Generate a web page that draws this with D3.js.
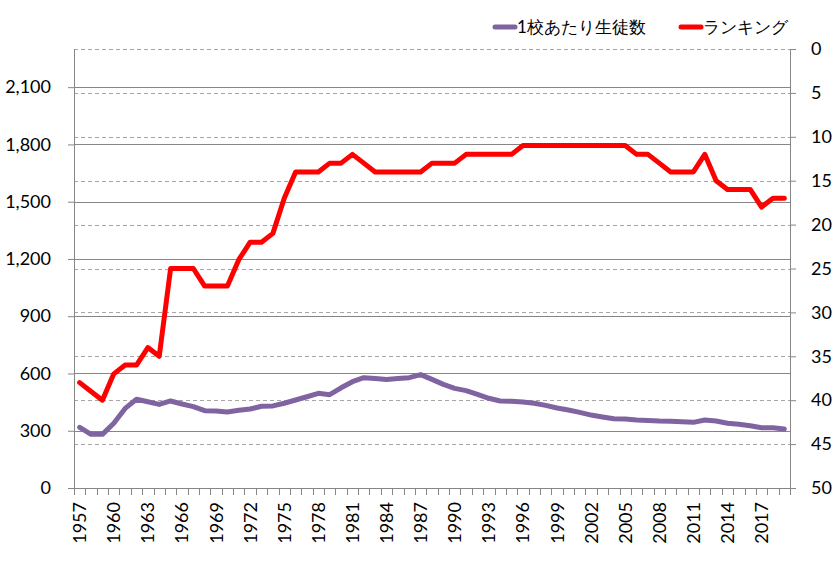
<!DOCTYPE html>
<html>
<head>
<meta charset="utf-8">
<script src="https://cdn.jsdelivr.net/npm/d3@7"></script>
<style>
  html, body { margin: 0; padding: 0; background: #fff; }
  svg { display: block; }
  text { font-family: Lato, "Noto Sans", sans-serif; fill: #000; }
</style>
</head>
<body>
<svg id="chart" width="834" height="562"></svg>
<script>
const years = d3.range(1957, 2020);
const studentsPerSchool = [
  318, 281, 281, 339, 417, 465, 452, 438, 456, 440,
  426, 405, 403, 398, 407, 414, 428, 430, 444, 461,
  478, 496, 489, 525, 557, 578, 574, 569, 574, 578,
  594, 569, 543, 522, 510, 491, 470, 456, 454, 450,
  444, 433, 419, 409, 396, 382, 372, 363, 361, 356,
  354, 351, 350, 347, 344, 356, 351, 339, 334, 326,
  316, 316, 309
];
const ranking = [
  38, 39, 40, 37, 36, 36, 34, 35, 25, 25,
  25, 27, 27, 27, 24, 22, 22, 21, 17, 14,
  14, 14, 13, 13, 12, 13, 14, 14, 14, 14,
  14, 13, 13, 13, 12, 12, 12, 12, 12, 11,
  11, 11, 11, 11, 11, 11, 11, 11, 11, 12,
  12, 13, 14, 14, 14, 12, 15, 16, 16, 16,
  18, 17, 17
];
const leftTicks = [0, 300, 600, 900, 1200, 1500, 1800, 2100];
const rightTicks = [0, 5, 10, 15, 20, 25, 30, 35, 40, 45, 50];
const seriesNames = ["1校あたり生徒数", "ランキング"];
const seriesColors = ["#8064A2", "#FF0000"];

const margin = { left: 74, right: 44, top: 49, bottom: 74 };
const W = 834, H = 562;
const svg = d3.select("#chart");

const x = d3.scaleBand().domain(years).range([margin.left, W - margin.right]).paddingInner(0).paddingOuter(0);
const yL = d3.scaleLinear().domain([0, 2300]).range([H - margin.bottom, margin.top]);
const yR = d3.scaleLinear().domain([0, 50]).range([margin.top, H - margin.bottom]);

const x0 = margin.left, x1 = W - margin.right;
const yb = H - margin.bottom, yt = margin.top;

// dashed gridlines (right axis)
svg.append("g").selectAll("line").data(rightTicks.filter(d => d < 50)).join("line")
  .attr("x1", x0).attr("x2", x1)
  .attr("y1", d => Math.round(yR(d)) + 0.5).attr("y2", d => Math.round(yR(d)) + 0.5)
  .attr("stroke", "#A6A6A6").attr("stroke-width", 1).attr("stroke-dasharray", "4,3");

// solid gridlines (left axis)
svg.append("g").selectAll("line").data(leftTicks.filter(d => d > 0)).join("line")
  .attr("x1", x0).attr("x2", x1)
  .attr("y1", d => Math.round(yL(d)) + 0.5).attr("y2", d => Math.round(yL(d)) + 0.5)
  .attr("stroke", "#868686").attr("stroke-width", 1);

// left axis
const axL = svg.append("g").attr("transform", `translate(${x0},0)`)
  .call(d3.axisLeft(yL).tickValues(leftTicks).tickSize(6).tickPadding(17).tickFormat(d3.format(",")));
axL.select(".domain").attr("stroke", "#868686").attr("d", `M0.5,${yt}V${yb}`);
axL.selectAll(".tick line").attr("stroke", "#868686");
axL.selectAll(".tick text").attr("font-size", 18).attr("font-family", "Lato");

// right axis
const axR = svg.append("g").attr("transform", `translate(${x1},0)`)
  .call(d3.axisRight(yR).tickValues(rightTicks).tickSize(6).tickPadding(15));
axR.select(".domain").attr("stroke", "#868686").attr("d", `M0.5,${yt}V${yb}`);
axR.selectAll(".tick line").attr("stroke", "#868686");
axR.selectAll(".tick text").attr("font-size", 18).attr("font-family", "Lato");

// bottom axis
const gB = svg.append("g");
gB.append("line").attr("x1", x0).attr("x2", x1).attr("y1", yb + 0.5).attr("y2", yb + 0.5).attr("stroke", "#868686");
const boundaries = years.map(d => x(d)).concat([x1]);
gB.selectAll("line.tk").data(boundaries).join("line").attr("class", "tk")
  .attr("x1", d => Math.round(d) + 0.5).attr("x2", d => Math.round(d) + 0.5)
  .attr("y1", yb).attr("y2", yb + 7).attr("stroke", "#868686");
gB.selectAll("text").data(years.filter((d, i) => i % 3 === 0)).join("text")
  .attr("transform", d => `translate(${x(d) + x.bandwidth() / 2},${yb + 14}) rotate(-90)`)
  .attr("text-anchor", "end").attr("dy", "0.36em")
  .attr("font-size", 18).attr("font-family", "Lato")
  .text(d => d);

// lines
const cx = d => x(d) + x.bandwidth() / 2;
const lineL = d3.line().x((d, i) => cx(years[i])).y(d => yL(d));
const lineR = d3.line().x((d, i) => cx(years[i])).y(d => yR(d));
svg.append("path").datum(studentsPerSchool).attr("d", lineL)
  .attr("fill", "none").attr("stroke", seriesColors[0]).attr("stroke-width", 5)
  .attr("stroke-linejoin", "round").attr("stroke-linecap", "round");
svg.append("path").datum(ranking).attr("d", lineR)
  .attr("fill", "none").attr("stroke", seriesColors[1]).attr("stroke-width", 5)
  .attr("stroke-linejoin", "round").attr("stroke-linecap", "round");

// legend
const legendItems = [
  { name: seriesNames[0], color: seriesColors[0], x: 493 },
  { name: seriesNames[1], color: seriesColors[1], x: 679 }
];
const lg = svg.append("g");
lg.selectAll("line").data(legendItems).join("line")
  .attr("x1", d => d.x + 2).attr("x2", d => d.x + 22).attr("y1", 27).attr("y2", 27)
  .attr("stroke", d => d.color).attr("stroke-width", 5).attr("stroke-linecap", "round");
lg.selectAll("text").data(legendItems).join("text")
  .attr("x", d => d.x + 24).attr("y", 27).attr("dy", "0.35em")
  .attr("font-size", 17).attr("font-family", "'Noto Sans CJK JP', sans-serif")
  .text(d => d.name);
</script>
</body>
</html>
